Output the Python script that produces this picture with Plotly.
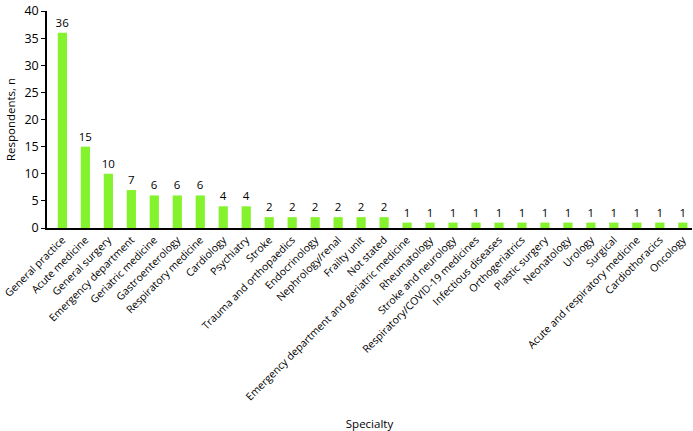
import plotly.graph_objects as go

categories = ["General practice", "Acute medicine", "General surgery", "Emergency department",
              "Geriatric medicine", "Gastroenterology", "Respiratory medicine", "Cardiology",
              "Psychiatry", "Stroke", "Trauma and orthopaedics", "Endocrinology",
              "Nephrology/renal", "Frailty unit", "Not stated",
              "Emergency department and geriatric medicine", "Rheumatology", "Stroke and neurology",
              "Respiratory/COVID-19 medicines", "Infectious diseases", "Orthogeriatrics",
              "Plastic surgery", "Neonatology", "Urology", "Surgical",
              "Acute and respiratory medicine", "Cardiothoracics", "Oncology"]
values = [36, 15, 10, 7, 6, 6, 6, 4, 4, 2, 2, 2, 2, 2, 2, 1, 1, 1, 1, 1, 1, 1, 1, 1, 1, 1, 1, 1]
y_ticks = [0, 5, 10, 15, 20, 25, 30, 35, 40]

FONT = "Open Sans"

fig = go.Figure(go.Bar(
    x=list(range(len(categories))), y=values,
    marker=dict(color="#84F22C", line=dict(width=0)),
    width=0.4,
    text=[str(v) for v in values], textposition="outside",
    constraintext="none",
    textfont=dict(family=FONT, size=11.5, color="#000"),
    cliponaxis=False,
))

fig.update_layout(
    width=693, height=431,
    margin=dict(l=47, r=1, t=11, b=203, autoexpand=False),
    plot_bgcolor="white", paper_bgcolor="white",
    font=dict(family=FONT, size=10.5, color="#000"),
    showlegend=False,
)
fig.update_xaxes(
    tickmode="array", tickvals=list(range(len(categories))), ticktext=categories,
    tickangle=-45, range=[-0.67, len(categories) - 0.6],
    automargin=False, ticklabeloverflow="allow",
    showline=True, linecolor="#000", linewidth=1.5,
    ticks="", showgrid=False, zeroline=False,
    title=dict(text="Specialty", font=dict(family=FONT, size=11.5), standoff=19),
    tickfont=dict(family=FONT, size=10.5),
)
fig.update_yaxes(
    range=[0, 40], tickmode="array", tickvals=y_ticks,
    automargin=False,
    showline=True, linecolor="#000", linewidth=1.5,
    ticks="outside", ticklen=4, tickcolor="#000",
    showgrid=False, zeroline=False,
    title=dict(text="Respondents, n", font=dict(family=FONT, size=11.5), standoff=6),
    tickfont=dict(family=FONT, size=12.5),
)

fig.write_html("out.html", config={"displayModeBar": False},
               post_script="document.body.style.margin='0';document.body.style.overflow='hidden';")
